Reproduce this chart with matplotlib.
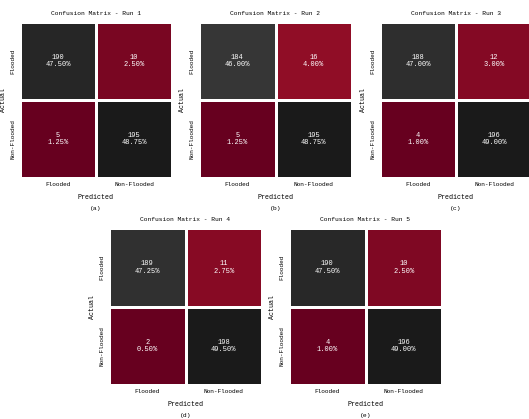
import numpy as np
import matplotlib
matplotlib.use("Agg")
import matplotlib.pyplot as plt

plt.rcParams["font.family"] = ["Liberation Mono", "DejaVu Sans Mono"]

classes = ["Flooded", "Non-Flooded"]
run_names = ["Run 1", "Run 2", "Run 3", "Run 4", "Run 5"]
captions = ["(a)", "(b)", "(c)", "(d)", "(e)"]

run1 = [[190, 10], [5, 195]]
run2 = [[184, 16], [5, 195]]
run3 = [[188, 12], [4, 196]]
run4 = [[189, 11], [2, 198]]
run5 = [[190, 10], [4, 196]]
runs = [run1, run2, run3, run4, run5]

W, H = 529, 419
# panel boxes in pixels: left, top, right, bottom
boxes = [
    (20, 22, 172, 178),
    (199, 22, 352, 178),
    (380, 22, 532, 178),
    (109, 228, 262, 385),
    (289, 228, 442, 385),
]

fig = plt.figure(figsize=(W / 100, H / 100), dpi=100)

for cm, name, cap, (x0, y0, x1, y1) in zip(runs, run_names, captions, boxes):
    ax = fig.add_axes([x0 / W, 1 - y1 / H, (x1 - x0) / W, (y1 - y0) / H])
    cm = np.array(cm)
    total = cm.sum()
    ax.pcolormesh(cm, cmap="RdGy", vmin=cm.min(), vmax=cm.max(),
                  edgecolors="white", linewidth=2)
    ax.set_xlim(0, 2)
    ax.set_ylim(2, 0)
    for i in range(2):
        for j in range(2):
            ax.text(j + 0.5, i + 0.5, f"{cm[i, j]}\n{cm[i, j] / total * 100:.2f}%",
                    ha="center", va="center", color="white", fontsize=5,
                    linespacing=1.1)
    ax.set_xticks([0.5, 1.5])
    ax.set_yticks([0.5, 1.5])
    ax.set_xticklabels(classes, fontsize=4.4)
    ax.set_yticklabels(classes, fontsize=4.4, rotation=90, va="center")
    ax.tick_params(length=0, pad=3)
    for s in ax.spines.values():
        s.set_visible(False)
    ax.set_title(f"Confusion Matrix - {name}", fontsize=4.5, pad=5)
    ax.set_xlabel("Predicted", fontsize=4.8, labelpad=5)
    ax.set_ylabel("Actual", fontsize=4.8, labelpad=3)
    ax.text(0.5, -0.195, cap, transform=ax.transAxes, ha="center",
            va="center", fontsize=4.6)

fig.savefig("out.png", dpi=100)
